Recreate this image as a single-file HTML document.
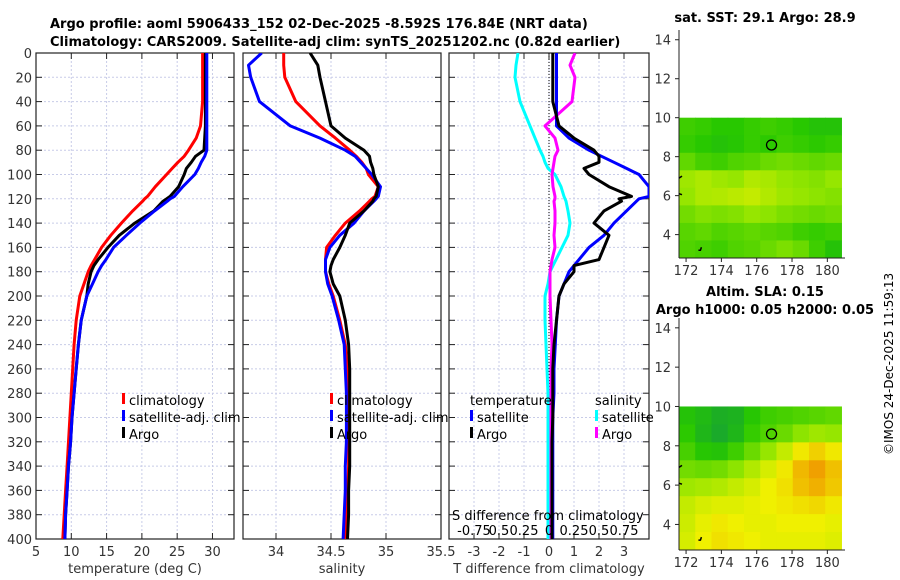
<!DOCTYPE html>
<html><head><meta charset="utf-8">
<style>
body{margin:0;background:#fff;}
svg{display:block;font-family:"DejaVu Sans","Liberation Sans",sans-serif;}
</style></head>
<body>
<svg id="chart" width="900" height="580" viewBox="0 0 900 580" xmlns="http://www.w3.org/2000/svg">
<rect width="900" height="580" fill="#fff"/>
<text x="50" y="28" font-size="13" font-weight="bold" fill="#000">Argo profile: aoml 5906433_152 02-Dec-2025 -8.592S 176.84E (NRT data)</text>
<text x="50" y="46" font-size="13" font-weight="bold" fill="#000">Climatology: CARS2009. Satellite-adj clim: synTS_20251202.nc (0.82d earlier)</text>
<text x="765" y="22" font-size="13" font-weight="bold" text-anchor="middle">sat. SST: 29.1 Argo: 28.9</text>
<text x="765" y="296" font-size="13" font-weight="bold" text-anchor="middle">Altim. SLA: 0.15</text>
<text x="765" y="314" font-size="13" font-weight="bold" text-anchor="middle">Argo h1000: 0.05 h2000: 0.05</text>
<text transform="translate(893,455) rotate(-90)" font-size="12">©IMOS 24-Dec-2025 11:59:13</text>
<g id="g"></g>
</svg>
<script>
// ---- data ----
const depths = [0,10,20,40,60,70,80,85,90,95,100,110,118,120,122,130,140,150,160,170,175,180,190,200,220,240,260,280,300,320,340,360,380,400];
const tempClim = [28.6,28.6,28.6,28.6,28.3,27.7,26.6,26.0,25.1,24.3,23.5,21.9,20.8,20.4,20.1,18.7,17.1,15.6,14.3,13.3,12.8,12.4,11.8,11.2,10.7,10.4,10.2,10.0,9.8,9.6,9.4,9.2,9.0,8.8];
const tempSat = [29.2,29.2,29.2,29.2,29.2,29.2,29.2,28.9,28.4,28.0,27.5,25.8,24.6,24.0,23.6,21.8,19.7,17.8,16.0,14.9,14.3,13.8,13.0,12.2,11.4,11.0,10.7,10.4,10.1,9.9,9.6,9.4,9.2,9.1];
const tempArgo = [29.0,29.0,29.0,29.0,29.0,28.9,28.8,27.6,27.0,26.3,26.0,25.2,24.0,23.5,23.0,21.7,19.0,16.8,15.2,13.8,13.2,12.8,12.4,12.2,11.4,11.0,10.7,10.4,10.1,9.9,9.6,9.4,9.2,9.1];
const salClim = [34.07,34.07,34.08,34.18,34.40,34.54,34.67,34.73,34.78,34.82,34.84,34.93,34.90,34.87,34.85,34.76,34.63,34.54,34.46,34.45,34.45,34.45,34.48,34.52,34.58,34.63,34.65,34.66,34.66,34.66,34.66,34.65,34.64,34.63];
const salSat = [33.87,33.75,33.77,33.85,34.13,34.40,34.63,34.72,34.77,34.82,34.87,34.95,34.93,34.91,34.89,34.80,34.71,34.58,34.49,34.45,34.45,34.45,34.47,34.51,34.57,34.62,34.63,34.64,34.64,34.64,34.63,34.63,34.62,34.61];
const salArgo = [34.31,34.38,34.40,34.45,34.50,34.63,34.80,34.85,34.86,34.88,34.89,34.93,34.91,34.89,34.88,34.80,34.67,34.63,34.58,34.52,34.50,34.49,34.52,34.58,34.63,34.66,34.67,34.67,34.67,34.67,34.67,34.66,34.66,34.65];
const tDiffSat = [0.3,0.3,0.3,0.3,0.3,0.8,1.6,2.1,2.6,3.1,3.6,4.0,4.0,3.6,3.5,3.1,2.6,2.2,1.6,1.2,1.0,0.8,0.6,0.4,0.3,0.25,0.2,0.2,0.15,0.15,0.15,0.15,0.15,0.15];
const tDiffArgo = [0.15,0.15,0.15,0.15,0.4,1.0,1.8,2.0,2.0,1.4,1.6,2.4,3.3,2.8,2.9,2.2,1.8,2.4,2.2,2.0,1.0,1.0,0.6,0.4,0.3,0.2,0.15,0.15,0.15,0.12,0.12,0.12,0.12,0.12];
const sDiffSat = [-0.31,-0.33,-0.34,-0.29,-0.19,-0.14,-0.09,-0.06,-0.04,-0.01,0.06,0.12,0.15,0.16,0.17,0.19,0.21,0.19,0.13,0.07,0.04,0.01,-0.01,-0.04,-0.04,-0.03,-0.02,-0.01,-0.01,-0.01,-0.01,-0.01,-0.01,-0.01];
const sDiffArgo = [0.26,0.21,0.26,0.23,-0.04,0.06,0.09,0.06,0.05,0.04,0.03,0.04,0.06,0.06,0.05,0.06,0.06,0.05,0.06,0.03,0.02,0.01,0.01,0.01,0.02,0.03,0.02,0.02,0.02,0.02,0.02,0.02,0.02,0.02];
const depthTicks = [0,20,40,60,80,100,120,140,160,180,200,220,240,260,280,300,320,340,360,380,400];
const tempTicks = [5,10,15,20,25,30];
const salTicks = [34,34.5,35,35.5];
const tdTicks = [-3,-2,-1,0,1,2,3];
const sdTickLabels = ["-0.75","0.5","0.25","0","0.25","0.5","0.75"];
const sdTicks = [-0.75,-0.5,-0.25,0,0.25,0.5,0.75];
// map grids: rows from north (lat 10) to south, cols west to east
const sstGrid = [
[0.30,0.28,0.25,0.25,0.28,0.30,0.28,0.25,0.22,0.22],
[0.28,0.25,0.22,0.24,0.28,0.26,0.30,0.28,0.26,0.28],
[0.38,0.32,0.30,0.34,0.36,0.40,0.42,0.40,0.38,0.40],
[0.52,0.55,0.52,0.50,0.56,0.54,0.50,0.48,0.46,0.50],
[0.50,0.55,0.56,0.58,0.60,0.56,0.52,0.50,0.48,0.46],
[0.42,0.46,0.44,0.46,0.50,0.48,0.44,0.42,0.40,0.42],
[0.36,0.38,0.34,0.36,0.38,0.36,0.34,0.30,0.28,0.30],
[0.34,0.32,0.30,0.34,0.36,0.40,0.44,0.40,0.30,0.22]];
const slaGrid = [
[0.22,0.18,0.12,0.14,0.24,0.30,0.32,0.34,0.36,0.38],
[0.26,0.16,0.10,0.16,0.28,0.34,0.40,0.48,0.52,0.50],
[0.32,0.24,0.22,0.30,0.40,0.50,0.60,0.72,0.78,0.72],
[0.42,0.40,0.42,0.48,0.56,0.64,0.72,0.84,0.90,0.82],
[0.52,0.54,0.56,0.60,0.64,0.70,0.74,0.82,0.86,0.80],
[0.60,0.64,0.66,0.66,0.68,0.70,0.72,0.74,0.76,0.72],
[0.62,0.68,0.72,0.70,0.68,0.68,0.70,0.70,0.70,0.68],
[0.64,0.70,0.74,0.72,0.70,0.68,0.68,0.68,0.68,0.66]];
const argoLon = 176.84, argoLat = 8.6;
const latTicks = [4,6,8,10,12,14];
const lonTicks = [172,174,176,178,180];

// ---- helpers ----
const NS="http://www.w3.org/2000/svg";
const G=document.getElementById('g');
function el(t,a,p){const e=document.createElementNS(NS,t);for(const k in a)e.setAttribute(k,a[k]);(p||G).appendChild(e);return e;}
const top0=53, bot=539;
const yD = d => top0 + d*(bot-top0)/400;
function panel(x0,x1,vmin,vmax,name){
  const xs=v=>x0+(v-vmin)*(x1-x0)/(vmax-vmin);
  return {x0,x1,xs,name};
}
const P1=panel(36,234,5,33.05,'temperature');
const P2=panel(243,441,33.7,35.5,'salinity');
const P3=panel(449,649,-4,4,'difference');

function grid(P,ticks,label,showY){
  const g=el('g',{});
  
  
  depthTicks.forEach(d=>{
    el('line',{x1:P.x0,x2:P.x1,y1:yD(d),y2:yD(d),stroke:'#c8cce8','stroke-width':1,'stroke-dasharray':'2,2'},g);
    el('line',{x1:P.x0,x2:P.x0+6,y1:yD(d),y2:yD(d),stroke:'#222'},g);
    el('line',{x1:P.x1-6,x2:P.x1,y1:yD(d),y2:yD(d),stroke:'#222'},g);
    if(showY){const t=el('text',{x:P.x0-4,y:yD(d)+5,'font-size':13,'text-anchor':'end',fill:'#333'},g);t.textContent=d;
      
      }
  });
  ticks.forEach(v=>{
    const x=P.xs(v);
    el('line',{x1:x,x2:x,y1:top0,y2:bot,stroke:'#c8cce8','stroke-dasharray':'2,2'},g);
    el('line',{x1:x,x2:x,y1:bot-6,y2:bot,stroke:'#222'},g);
    el('line',{x1:x,x2:x,y1:top0,y2:top0+6,stroke:'#222'},g);
    const t=el('text',{x:x,y:bot+17,'font-size':13,'text-anchor':'middle',fill:'#333'},g);t.textContent=v;
    
    
  });
  el('rect',{x:P.x0,y:top0,width:P.x1-P.x0,height:bot-top0,fill:'none',stroke:'#222','stroke-width':1.2},g);
  const xl=el('text',{x:(P.x0+P.x1)/2,y:bot+34,'font-size':13,'text-anchor':'middle',fill:'#333'},g);xl.textContent=label;
  
  
}
grid(P1,tempTicks,'temperature (deg C)',true);
grid(P2,salTicks,'salinity',false);
grid(P3,tdTicks,'T difference from climatology',false);
el('line',{x1:P3.xs(0),x2:P3.xs(0),y1:top0,y2:bot,stroke:'#000','stroke-dasharray':'1,2'});

function clip(P,id){const c=el('clipPath',{id:id});el('rect',{x:P.x0,y:top0,width:P.x1-P.x0,height:bot-top0},c);}
clip(P1,'c1');clip(P2,'c2');clip(P3,'c3');
let cg;
function lineIn(g,P,vals,col,name,scale){
  const pts=depths.map((d,i)=>P.xs(vals[i]*(scale||1)).toFixed(1)+','+yD(d).toFixed(1)).join(' ');
  const l=el('polyline',{points:pts,fill:'none',stroke:col,'stroke-width':3,'stroke-linejoin':'round'},g);
  
  
}
cg=el('g',{'clip-path':'url(#c1)'});
lineIn(cg,P1,tempClim,'#f00','temp-climatology-line');
lineIn(cg,P1,tempArgo,'#000','temp-argo-line');
lineIn(cg,P1,tempSat,'#00f','temp-satellite-line');
cg=el('g',{'clip-path':'url(#c2)'});
lineIn(cg,P2,salClim,'#f00','sal-climatology-line');
lineIn(cg,P2,salSat,'#00f','sal-satellite-line');
lineIn(cg,P2,salArgo,'#000','sal-argo-line');
cg=el('g',{'clip-path':'url(#c3)'});
lineIn(cg,P3,sDiffSat,'#0ff','s-diff-satellite-line',4);
lineIn(cg,P3,sDiffArgo,'#f0f','s-diff-argo-line',4);
lineIn(cg,P3,tDiffSat,'#00f','t-diff-satellite-line');
lineIn(cg,P3,tDiffArgo,'#000','t-diff-argo-line');

function legend(x,y,items){
  items.forEach((it,i)=>{
    const yy=y+i*17;
    if(it[0]) el('rect',{x:x,y:yy-12,width:3,height:11,fill:it[0]});
    const t=el('text',{x:x+(it[0]?7:0),y:yy,'font-size':13,fill:'#000'});t.textContent=it[1];
    
    
  });
}
legend(122,405,[['#f00','climatology'],['#00f','satellite-adj. clim'],['#000','Argo']]);
legend(330,405,[['#f00','climatology'],['#00f','satellite-adj. clim'],['#000','Argo']]);
legend(470,405,[[null,'temperature'],['#00f','satellite'],['#000','Argo']]);
legend(595,405,[[null,'salinity'],['#0ff','satellite'],['#f0f','Argo']]);
let st=el('text',{x:452,y:520,'font-size':13});st.textContent='S difference from climatology';


sdTicks.forEach((v,i)=>{const t=el('text',{x:P3.xs(v*4),y:535,'font-size':13,'text-anchor':'middle'});t.textContent=sdTickLabels[i];
  
  });

// ---- maps ----
function cmap(v){
  const stops=[[0,[16,150,70]],[0.25,[40,200,0]],[0.5,[150,230,0]],[0.7,[240,240,0]],[0.9,[240,160,0]],[1,[230,110,0]]];
  for(let i=1;i<stops.length;i++){if(v<=stops[i][0]){const a=stops[i-1],b=stops[i],f=(v-a[0])/(b[0]-a[0]);
    return 'rgb('+a[1].map((c,k)=>Math.round(c+(b[1][k]-c)*f)).join(',')+')';}}
  return 'rgb(230,110,0)';
}
function map(yTop,yBot,latTop,latBot,gridData,name){
  const lonMin=171.6, lonMax=181.0, xL=679, xR=845;
  const xs=lon=>xL+(lon-lonMin)*(xR-xL)/(lonMax-lonMin);
  const ys=lat=>yTop+(latTop-lat)*(yBot-yTop)/(latTop-latBot);
  const g=el('g',{});
  
  
  const rows=gridData.length, cols=gridData[0].length;
  const lon0=171.6, lon1=180.8, la0=10, la1=latBot;
  const cw=(xs(lon1)-xs(lon0))/cols, ch=(ys(la1)-ys(la0))/rows;
  gridData.forEach((r,i)=>r.forEach((v,j)=>{
    const c=el('rect',{x:xs(lon0)+j*cw,y:ys(la0)+i*ch,width:cw+0.5,height:ch+0.5,fill:cmap(v)},g);
    
    
  }));
  el('line',{x1:xL,x2:xL,y1:yTop,y2:yBot,stroke:'#222'},g);
  el('line',{x1:xL,x2:xR,y1:yBot,y2:yBot,stroke:'#222'},g);
  latTicks.forEach(l=>{const y=ys(l);el('line',{x1:xL-4,x2:xL,y1:y,y2:y,stroke:'#222'},g);
    const t=el('text',{x:xL-8,y:y+5,'font-size':13,'text-anchor':'end',fill:'#333'},g);t.textContent=l;
    
    });
  lonTicks.forEach(l=>{const x=xs(l);el('line',{x1:x,x2:x,y1:yBot,y2:yBot+4,stroke:'#222'},g);
    const t=el('text',{x:x,y:yBot+17,'font-size':13,'text-anchor':'middle',fill:'#333'},g);t.textContent=l;
    
    });
  el('path',{d:`M${xs(171.6)} ${ys(6.9)} l3 -2 M${xs(171.6)} ${ys(6.1)} l3 1 M${xs(172.7)} ${ys(3.2)} l2 0 l1 -3`,stroke:'#000',fill:'none','stroke-width':1.5},g);
  const c=el('circle',{cx:xs(argoLon),cy:ys(argoLat),r:5,fill:'none',stroke:'#000','stroke-width':1.3},g);
  
  
}
map(30,258,14.5,2.8,sstGrid,'sst-map');
map(318,550,14.5,2.7,slaGrid,'sla-map');
</script>
</body></html>
